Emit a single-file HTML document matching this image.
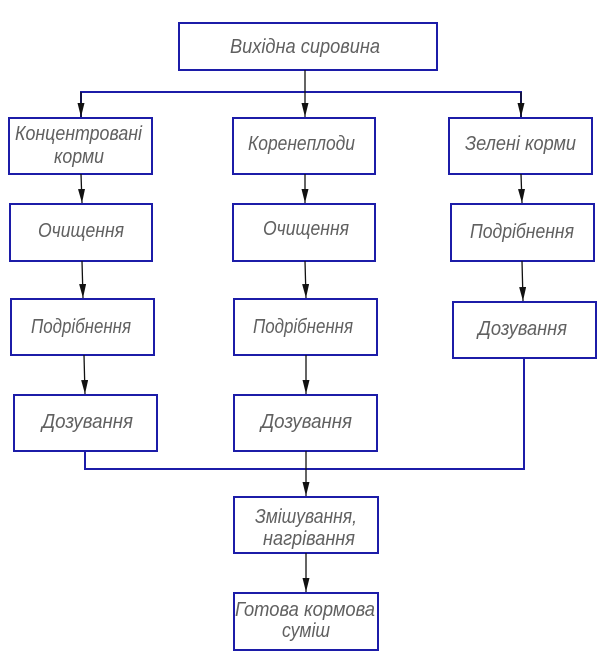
<!DOCTYPE html>
<html><head><meta charset="utf-8"><style>
html,body{margin:0;padding:0;background:#fff;}
svg{display:block;}
text{font-family:"Liberation Sans","DejaVu Sans",sans-serif;font-style:italic;font-size:20px;fill:#606060;font-weight:normal;}
</style></head><body>
<svg width="602" height="658" viewBox="0 0 602 658" xmlns="http://www.w3.org/2000/svg">
<defs>
<marker id="a" markerWidth="14" markerHeight="7" refX="14" refY="3.5" orient="auto" markerUnits="userSpaceOnUse" viewBox="0 0 14 7">
<path d="M0,0 L14,3.5 L0,7 Z" fill="#111"/>
</marker>
</defs>
<g fill="none" stroke="#1c1ca8" stroke-width="2">
<rect x="179" y="23" width="258" height="47"/>
<rect x="9" y="118" width="143" height="56"/>
<rect x="233" y="118" width="142" height="56"/>
<rect x="449" y="118" width="143" height="56"/>
<rect x="10" y="204" width="142" height="57"/>
<rect x="233" y="204" width="142" height="57"/>
<rect x="451" y="204" width="143" height="57"/>
<rect x="11" y="299" width="143" height="56"/>
<rect x="234" y="299" width="143" height="56"/>
<rect x="453" y="302" width="143" height="56"/>
<rect x="14" y="395" width="143" height="56"/>
<rect x="234" y="395" width="143" height="56"/>
<rect x="234" y="497" width="144" height="56"/>
<rect x="234" y="593" width="144" height="57"/>
<polyline points="81,118 81,92 521,92 521,118"/>
<polyline points="85,451 85,469 524,469 524,358"/>
</g>
<g stroke="#111" stroke-width="1.3" fill="none">
<line x1="305" y1="70" x2="305" y2="92"/>
<line x1="81" y1="92" x2="81" y2="117" marker-end="url(#a)"/>
<line x1="305" y1="92" x2="305" y2="117" marker-end="url(#a)"/>
<line x1="521" y1="92" x2="521" y2="117" marker-end="url(#a)"/>
<line x1="81" y1="174" x2="82" y2="203" marker-end="url(#a)"/>
<line x1="305" y1="174" x2="305" y2="203" marker-end="url(#a)"/>
<line x1="521" y1="174" x2="522" y2="203" marker-end="url(#a)"/>
<line x1="82" y1="261" x2="83" y2="298" marker-end="url(#a)"/>
<line x1="305" y1="261" x2="306" y2="298" marker-end="url(#a)"/>
<line x1="522" y1="261" x2="523" y2="301" marker-end="url(#a)"/>
<line x1="84" y1="355" x2="85" y2="394" marker-end="url(#a)"/>
<line x1="306" y1="355" x2="306" y2="394" marker-end="url(#a)"/>
<line x1="306" y1="451" x2="306" y2="496" marker-end="url(#a)"/>
<line x1="306" y1="553" x2="306" y2="592" marker-end="url(#a)"/>
</g>
<text x="230" y="53" textLength="150" lengthAdjust="spacingAndGlyphs">Вихідна сировина</text>
<text x="15" y="140" textLength="127" lengthAdjust="spacingAndGlyphs">Концентровані</text>
<text x="54" y="163" textLength="50" lengthAdjust="spacingAndGlyphs">корми</text>
<text x="248" y="150" textLength="107" lengthAdjust="spacingAndGlyphs">Коренеплоди</text>
<text x="465" y="150" textLength="111" lengthAdjust="spacingAndGlyphs">Зелені корми</text>
<text x="38" y="237" textLength="86" lengthAdjust="spacingAndGlyphs">Очищення</text>
<text x="263" y="235" textLength="86" lengthAdjust="spacingAndGlyphs">Очищення</text>
<text x="470" y="238" textLength="104" lengthAdjust="spacingAndGlyphs">Подрібнення</text>
<text x="31" y="333" textLength="100" lengthAdjust="spacingAndGlyphs">Подрібнення</text>
<text x="253" y="333" textLength="100" lengthAdjust="spacingAndGlyphs">Подрібнення</text>
<text x="478" y="335" textLength="89" lengthAdjust="spacingAndGlyphs">Дозування</text>
<text x="42" y="428" textLength="91" lengthAdjust="spacingAndGlyphs">Дозування</text>
<text x="261" y="428" textLength="91" lengthAdjust="spacingAndGlyphs">Дозування</text>
<text x="255" y="523" textLength="102" lengthAdjust="spacingAndGlyphs">Змішування,</text>
<text x="263" y="545" textLength="92" lengthAdjust="spacingAndGlyphs">нагрівання</text>
<text x="235" y="616" textLength="140" lengthAdjust="spacingAndGlyphs">Готова кормова</text>
<text x="282" y="637" textLength="48" lengthAdjust="spacingAndGlyphs">суміш</text>
</svg>
</body></html>
